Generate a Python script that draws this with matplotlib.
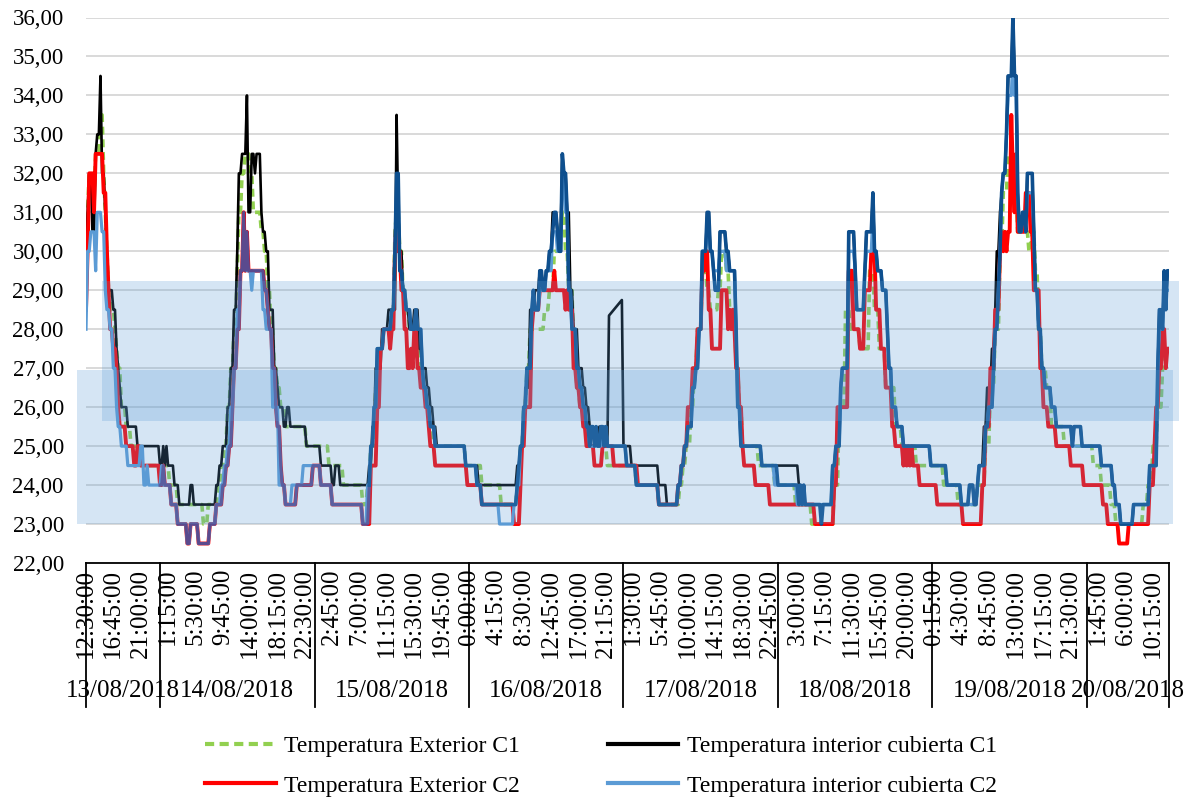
import numpy as np
import pandas as pd
import matplotlib
matplotlib.use("Agg")
import matplotlib.pyplot as plt
from matplotlib.lines import Line2D
from matplotlib.patches import Rectangle
import matplotlib.transforms as mtransforms

plt.rcParams['font.family'] = ['Liberation Serif', 'DejaVu Serif']

# 15-minute samples, 13/08/2018 12:30 -> 20/08/2018 12:45
N = 674
START = '2018-08-13 12:30'

# step data: (sample index where the value starts, temperature)
EXT_C1 = [(0, 29.5), (1, 31), (2, 32), (5, 31.5), (6, 32.5), (9, 33.5), (11, 32), (12, 31), (13, 30), (14, 29),
          (16, 28.5), (18, 28), (19, 27.5), (20, 27), (22, 26), (25, 25.5), (28, 25), (35, 24.5), (52, 24),
          (57, 23.5), (73, 23), (76, 23.5), (82, 24), (84, 24.5), (86, 25), (88, 26), (90, 27), (92, 28),
          (94, 29.5), (95, 31), (97, 32), (99, 32.5), (102, 32), (104, 31), (109, 30.5), (111, 30), (113, 29),
          (115, 28), (117, 27), (119, 26.5), (121, 26), (124, 25.5), (137, 25), (151, 24.5), (160, 24),
          (172, 23.5), (175, 24), (177, 25), (180, 26.5), (182, 27.5), (185, 28), (190, 28.5), (192, 30.5),
          (193, 31), (195, 30), (197, 29), (199, 28.5), (201, 28), (206, 27.5), (208, 27), (210, 26.5),
          (212, 26), (214, 25.5), (216, 25), (236, 24.5), (246, 24), (258, 23.5), (268, 24), (270, 25),
          (272, 26), (274, 27), (276, 28), (285, 28.5), (288, 29), (291, 30), (294, 30.5), (296, 31), (298, 30),
          (300, 29), (303, 27.5), (305, 26.5), (307, 26), (310, 25.5), (313, 25), (324, 24.5), (342, 24),
          (356, 23.5), (369, 24), (371, 24.5), (373, 25), (376, 26), (378, 27), (380, 28), (383, 29.5),
          (386, 29), (388, 28.5), (393, 29), (395, 30), (398, 29.5), (400, 28.5), (404, 27), (406, 26),
          (408, 25), (418, 24.5), (428, 24), (441, 23.5), (451, 23), (465, 24), (468, 26), (472, 28.5),
          (475, 28), (481, 27.5), (487, 29.5), (490, 28.5), (493, 27.5), (497, 26.5), (503, 25.5), (507, 25),
          (516, 24.5), (533, 24), (542, 23.5), (554, 24), (559, 25), (562, 26.5), (565, 28), (568, 30),
          (570, 31.5), (573, 32.5), (576, 32), (577, 31.5), (579, 30.5), (586, 30), (588, 30.5), (590, 29.5),
          (592, 28), (594, 27), (597, 26.5), (600, 25.5), (608, 25), (626, 24.5), (631, 24), (637, 23.5),
          (640, 23), (657, 23.5), (660, 24), (663, 25), (666, 26), (669, 27), (671, 27.5)]

INT_C1 = [(0, 30), (1, 31), (2, 32), (4, 30.5), (6, 32.5), (7, 33), (9, 34.5), (10, 32), (12, 31), (13, 30),
          (14, 29), (17, 28.5), (19, 27.5), (20, 27), (21, 26.5), (22, 26), (26, 25.5), (32, 25), (46, 24.5),
          (48, 25), (49, 24.5), (50, 25), (51, 24.5), (55, 24), (58, 23.5), (65, 24), (67, 23.5), (81, 24),
          (83, 24.5), (85, 25), (88, 26), (90, 27), (92, 28.5), (94, 30), (95, 32), (97, 32.5), (100, 34),
          (101, 31), (103, 32.5), (105, 32), (106, 32.5), (109, 31), (110, 30.5), (112, 30), (114, 28.5),
          (117, 27), (119, 26.5), (120, 26), (123, 25.5), (125, 26), (127, 25.5), (137, 25), (146, 24.5),
          (153, 24), (155, 24.5), (158, 24), (176, 24.5), (178, 25.5), (180, 27), (184, 28), (188, 28.5),
          (193, 33.5), (194, 31), (195, 30), (197, 29), (199, 28.5), (201, 28), (204, 28.5), (207, 27.5),
          (209, 27), (212, 26.5), (214, 26), (216, 25.5), (218, 25), (236, 24.5), (244, 24), (268, 24.5),
          (270, 25), (273, 26.5), (276, 28.5), (279, 29), (282, 29.5), (284, 29), (286, 29.5), (288, 30),
          (290, 31), (293, 30.5), (296, 32.5), (297, 32), (299, 31), (301, 29), (303, 28), (306, 27),
          (309, 26.5), (311, 26), (313, 25.5), (316, 25), (317, 25.5), (318, 25), (319, 25.5), (321, 25),
          (322, 25.5), (324, 25), (325, 28.35), (326, 28.4), (327, 28.45), (328, 28.5), (329, 28.55),
          (330, 28.6), (331, 28.65), (332, 28.7), (333, 28.75), (334, 25), (339, 24.5), (356, 24), (361, 23.5),
          (368, 24), (370, 24.5), (372, 25), (374, 25.5), (377, 26.5), (379, 27), (381, 28), (383, 30),
          (386, 31), (388, 30), (390, 29.5), (391, 29), (394, 30.5), (398, 30), (400, 29.5), (404, 28),
          (405, 26), (407, 25), (420, 24.5), (443, 24), (445, 23.5), (464, 24.5), (466, 25), (469, 26.5),
          (470, 27), (474, 30.5), (478, 29.5), (479, 28.5), (484, 29.5), (485, 30.5), (489, 31.5), (490, 30),
          (492, 29.5), (495, 29), (498, 28), (499, 27), (501, 26), (504, 25.5), (508, 25), (525, 24.5),
          (535, 24), (544, 23.5), (549, 24), (552, 23.5), (554, 24), (555, 24.5), (558, 25.5), (560, 26.5),
          (563, 27.5), (565, 28.5), (566, 30), (568, 31), (569, 31.5), (570, 32), (572, 33), (573, 34.5),
          (576, 36), (577, 34.5), (579, 31.5), (580, 30.5), (582, 31), (584, 30.5), (585, 32), (589, 30.5),
          (590, 29), (592, 28), (594, 27), (596, 26.5), (600, 26), (603, 25.5), (613, 25), (614, 25.5),
          (619, 25), (631, 24.5), (638, 24), (640, 23.5), (643, 23), (651, 23.5), (661, 24.5), (666, 27),
          (667, 28.5), (669, 28), (670, 29.5), (671, 28.5), (672, 29.5)]

EXT_C2 = [(0, 28.5), (1, 30), (2, 32), (5, 31), (6, 32.5), (11, 31.5), (13, 30), (14, 29), (15, 28), (17, 27.5),
          (19, 27), (20, 26), (21, 25.5), (25, 25), (30, 24.5), (32, 25), (34, 24.5), (46, 24), (48, 24.5),
          (49, 24), (53, 23.5), (57, 23), (63, 22.5), (65, 23), (70, 22.5), (77, 23), (81, 23.5), (85, 24),
          (87, 24.5), (89, 25), (91, 26), (92, 27), (94, 28), (96, 29.5), (98, 31), (99, 29.5), (100, 30.5),
          (101, 29.5), (111, 29), (113, 28.5), (114, 28), (116, 27), (118, 26), (119, 25.5), (121, 24.5),
          (122, 24), (124, 23.5), (131, 24), (141, 24.5), (146, 24), (153, 23.5), (172, 23), (177, 24.5),
          (181, 26), (183, 27.5), (185, 28), (189, 27.5), (190, 28), (192, 30), (193, 31), (194, 30), (196, 29),
          (198, 28), (200, 27), (202, 27.5), (203, 27), (204, 28), (206, 27), (208, 26.5), (211, 26),
          (213, 25.5), (214, 25), (217, 24.5), (237, 24), (246, 23.5), (266, 23), (270, 24), (271, 25),
          (273, 26), (277, 28), (278, 28.5), (282, 29), (291, 29.5), (292, 29), (298, 28.5), (299, 29),
          (300, 28.5), (303, 27), (305, 26.5), (307, 26), (309, 25.5), (311, 25), (316, 24.5), (321, 25),
          (328, 24.5), (343, 24), (356, 23.5), (368, 24), (370, 24.5), (372, 25), (374, 26), (377, 27),
          (380, 28), (383, 29.5), (385, 30), (387, 28.5), (389, 27.5), (395, 29), (399, 28), (400, 28.5),
          (401, 28), (402, 28.5), (403, 28), (404, 27), (406, 26), (408, 25), (409, 24.5), (416, 24),
          (425, 23.5), (453, 23), (465, 24), (467, 26), (474, 29.5), (477, 28), (481, 27.5), (484, 29),
          (488, 30), (491, 28.5), (494, 27.5), (497, 26.5), (501, 25.5), (503, 25), (508, 24.5), (509, 25),
          (510, 24.5), (511, 25), (512, 24.5), (513, 25), (514, 24.5), (518, 24), (529, 23.5), (545, 23),
          (557, 24), (559, 25.5), (562, 27), (565, 28.5), (568, 30), (569, 30.5), (570, 30), (571, 30.5),
          (572, 30), (573, 30.5), (575, 33.5), (576, 32), (577, 31), (578, 32.5), (579, 30.5), (584, 31.5),
          (587, 30.5), (589, 29), (593, 27), (595, 26), (598, 25.5), (603, 25), (612, 24.5), (620, 24),
          (632, 23.5), (635, 23), (642, 22.5), (648, 23), (661, 24), (664, 25), (665, 26), (667, 27),
          (669, 28), (671, 27), (672, 27.5)]

INT_C2 = [(0, 28), (1, 30), (3, 30.5), (6, 29.5), (7, 31), (10, 30.5), (12, 29), (13, 28.5), (15, 28), (17, 27),
          (19, 26), (20, 25.5), (22, 25), (26, 24.5), (34, 25), (36, 24), (38, 24.5), (39, 24), (47, 24.5),
          (48, 24), (53, 23.5), (57, 23), (63, 22.5), (65, 23), (70, 22.5), (77, 23), (81, 23.5), (84, 24),
          (86, 24.5), (88, 25), (90, 26), (92, 27), (94, 28.5), (96, 29.5), (98, 30.5), (100, 29.5), (103, 29),
          (104, 29.5), (110, 28.5), (112, 28), (116, 26), (120, 24), (124, 23.5), (128, 24), (135, 24.5),
          (146, 24), (153, 23.5), (172, 23), (175, 24), (177, 25), (179, 26), (181, 27.5), (185, 28),
          (190, 28.5), (192, 30), (193, 31.5), (195, 29.5), (197, 29), (199, 28.5), (202, 28), (205, 28.5),
          (206, 28), (209, 27), (210, 26.5), (212, 26), (214, 25.5), (217, 25), (236, 24.5), (243, 24),
          (246, 23.5), (257, 23), (266, 23.5), (268, 24), (270, 25), (272, 26), (274, 27), (277, 28.5),
          (282, 29), (286, 29.5), (290, 30.5), (293, 30), (296, 32), (298, 31), (300, 29), (302, 28),
          (305, 27), (307, 26.5), (309, 26), (311, 25.5), (313, 25), (321, 25.5), (324, 25), (336, 24.5),
          (342, 24), (356, 23.5), (368, 24), (370, 24.5), (372, 25), (374, 25.5), (377, 26.5), (379, 27),
          (381, 28), (383, 30), (386, 30.5), (388, 30), (390, 29.5), (394, 30), (398, 29.5), (404, 28),
          (405, 26), (407, 25), (420, 24.5), (428, 24), (442, 23.5), (464, 24.5), (466, 25), (469, 26.5),
          (470, 27), (474, 30), (478, 29.5), (479, 28.5), (484, 29.5), (485, 30), (489, 31), (490, 30),
          (492, 29.5), (495, 29), (498, 28), (499, 27), (501, 26), (504, 25.5), (508, 25), (525, 24.5),
          (535, 24), (544, 23.5), (554, 24), (555, 24.5), (559, 25.5), (561, 26), (564, 27), (565, 28),
          (567, 29), (568, 30), (569, 31.5), (570, 32), (572, 33), (573, 34), (576, 35), (577, 34),
          (579, 31.5), (580, 30.5), (582, 31), (584, 30.5), (585, 31.5), (589, 30.5), (590, 29), (592, 28),
          (594, 27), (596, 26.5), (600, 26), (603, 25.5), (613, 25), (619, 25), (631, 24.5), (638, 24),
          (640, 23.5), (643, 23), (651, 23.5), (661, 24.5), (666, 27), (667, 28), (670, 29), (672, 29)]

# extra series (dark blue) that shows up in the original without a legend entry
INT_C2B = [(0, np.nan), (46, 24), (48, 24.5), (49, 24), (53, 23.5), (57, 23), (63, 22.5), (65, 23), (70, 22.5),
           (77, 23), (81, 23.5), (85, 24), (87, 24.5), (89, 25), (91, 26), (92, 27), (94, 28), (96, 29.5),
           (98, 31), (99, 29.5), (100, 30.5), (101, 29.5), (111, 29), (113, 28.5), (114, 28), (116, 27),
           (118, 26), (119, 25.5), (121, 24.5), (122, 24), (124, 23.5), (131, 24), (141, 24.5), (146, 24),
           (153, 23.5), (172, 23), (176, 24), (177, 25), (179, 26), (181, 27.5), (185, 28), (190, 28.5),
           (192, 30), (193, 32), (195, 29.5), (197, 29), (199, 28.5), (202, 28), (205, 28.5), (206, 28),
           (209, 27), (210, 26.5), (212, 26), (214, 25.5), (217, 25), (236, 24.5), (243, 24), (246, 23.5),
           (268, 24), (269, 24.5), (270, 25), (272, 26), (274, 27), (277, 28.5), (278, 29), (279, 28.5),
           (282, 29.5), (284, 29), (286, 29.5), (288, 30), (290, 30.5), (291, 31), (293, 30.5), (294, 30),
           (296, 32.5), (297, 32), (299, 31), (300, 29), (302, 28), (305, 27), (307, 26.5), (309, 26),
           (311, 25.5), (313, 25), (314, 25.5), (316, 25), (317, 25.5), (318, 25), (320, 25.5), (322, 25),
           (323, 25.5), (324, 25), (336, 24.5), (342, 24), (356, 23.5), (368, 24), (370, 24.5), (372, 25),
           (374, 25.5), (377, 26.5), (379, 27), (381, 28), (383, 30), (386, 31), (388, 30), (390, 29.5),
           (391, 29), (394, 30.5), (398, 30), (400, 29.5), (404, 28), (405, 26), (407, 25), (420, 24.5),
           (430, 24), (443, 23.5), (444, 24), (445, 23.5), (446, 24), (447, 23.5), (457, 23), (458, 23.5),
           (464, 24.5), (466, 25), (469, 26.5), (470, 27), (474, 30.5), (478, 29.5), (479, 28.5), (484, 29.5),
           (485, 30.5), (489, 31.5), (490, 30), (492, 29.5), (495, 29), (498, 28), (499, 27), (501, 26),
           (504, 25.5), (508, 25), (525, 24.5), (535, 24), (544, 23.5), (549, 24), (552, 23.5), (554, 24),
           (555, 24.5), (559, 25.5), (561, 26), (564, 27), (565, 28), (567, 29), (568, 30), (569, 31.5),
           (570, 32), (572, 33), (573, 34.5), (576, 36), (577, 34.5), (579, 31.5), (580, 30.5), (582, 31),
           (584, 30.5), (585, 32), (589, 30.5), (590, 29), (592, 28), (594, 27), (596, 26.5), (600, 26),
           (603, 25.5), (613, 25), (614, 25.5), (619, 25), (631, 24.5), (638, 24), (640, 23.5), (643, 23),
           (651, 23.5), (661, 24.5), (666, 27), (667, 28.5), (669, 28), (670, 29.5), (671, 28.5), (672, 29.5)]
# in the original this extra trace looks purple while it sits on the red one
PURPLE_UNTIL = 176

# comfort bands drawn over the chart
BAND_LOW = (23.0, 26.95)
BAND_HIGH = (25.65, 29.25)

LABELS = ['Temperatura Exterior C1', 'Temperatura interior cubierta C1',
          'Temperatura Exterior C2', 'Temperatura interior cubierta C2']


def expand(steps):
    idx = [s[0] for s in steps] + [N]
    vals = [s[1] for s in steps]
    return np.repeat(vals, np.diff(idx)).astype(float)


times = pd.date_range(START, periods=N, freq='15min')
x = np.arange(N)

fig = plt.figure(figsize=(11.9, 7.98), dpi=100)
ax = fig.add_axes([86 / 1190, 1 - 563 / 798, 1083 / 1190, (563 - 17.5) / 798])

FS_Y = 16.5
FS_X = 18
FS_LEG = 17

dash = (0, (2.2, 1.3))
ax.plot(x, expand(EXT_C1), color='#92D050', lw=2.6, ls=dash, zorder=3)
ax.plot(x, expand(INT_C1), color='black', lw=1.9, zorder=3)
ax.plot(x, expand(EXT_C2), color='#FF0000', lw=2.8, zorder=3)
ax.plot(x, expand(INT_C2), color='#5B9BD5', lw=2.3, zorder=3)
extra = expand(INT_C2B)
early = np.where(x <= PURPLE_UNTIL, extra, np.nan)
late = np.where(x >= PURPLE_UNTIL, extra, np.nan)
ax.plot(x, early, color='#5A4A8E', lw=2.2, zorder=3)
ax.plot(x, late, color='#0E4F8E', lw=2.6, zorder=3)

ax.set_xlim(0, N - 1)
ax.set_ylim(22, 36)
yt = np.arange(22, 37, 1)
ax.set_yticks(yt)
ax.set_yticklabels([f'{v:.2f}'.replace('.', ',') for v in yt], fontsize=FS_Y)
ax.tick_params(axis='y', length=0, pad=16)
ax.grid(axis='y', color='#D9D9D9', lw=1.4, zorder=0)
ax.set_axisbelow(True)
for s in ('left', 'right', 'top'):
    ax.spines[s].set_visible(False)
ax.spines['bottom'].set_linewidth(1.3)

# bands (semi-transparent shapes on top of the lines)
blend = mtransforms.blended_transform_factory(ax.transAxes, ax.transData)
ax.add_patch(Rectangle((-0.0083, BAND_LOW[0]), 1.012, BAND_LOW[1] - BAND_LOW[0], transform=blend,
                       color='#5B9BD5', alpha=0.25, lw=0, zorder=5, clip_on=False))
ax.add_patch(Rectangle((0.0148, BAND_HIGH[0]), 0.9944, BAND_HIGH[1] - BAND_HIGH[0], transform=blend,
                       color='#5B9BD5', alpha=0.25, lw=0, zorder=5, clip_on=False))

# time labels every 17 samples
tick_pos = np.arange(0, N, 17)
ax.set_xticks(tick_pos)
ax.set_xticklabels([f'{t.hour}:{t.minute:02d}:00' for t in times[tick_pos]], rotation=90,
                   fontsize=FS_X, va='top', ha='center')
ax.tick_params(axis='x', length=0, pad=4)

# day groups
day_starts = [0] + list(np.where((times.hour == 0) & (times.minute == 0))[0]) + [N - 1]
xt = ax.get_xaxis_transform()
for d in day_starts:
    ax.plot([d, d], [0, -144 / 545.5], transform=xt, color='black', lw=1.3, clip_on=False)
for a, b in zip(day_starts[:-1], day_starts[1:]):
    ax.text((a + b) / 2, -128 / 545.5, times[a].strftime('%d/%m/%Y'), transform=xt,
            ha='center', va='center', fontsize=FS_X)

handles = [Line2D([], [], color='#92D050', lw=3, ls=dash),
           Line2D([], [], color='#FF0000', lw=3),
           Line2D([], [], color='black', lw=3),
           Line2D([], [], color='#5B9BD5', lw=3)]
fig.legend(handles, [LABELS[0], LABELS[2], LABELS[1], LABELS[3]], ncol=2, frameon=False,
           loc='center', bbox_to_anchor=(601 / 1190, 1 - 766 / 798), fontsize=FS_LEG,
           handlelength=3.0, handletextpad=0.35, columnspacing=3.7, labelspacing=0.78)

fig.savefig('out.png', dpi=100)
